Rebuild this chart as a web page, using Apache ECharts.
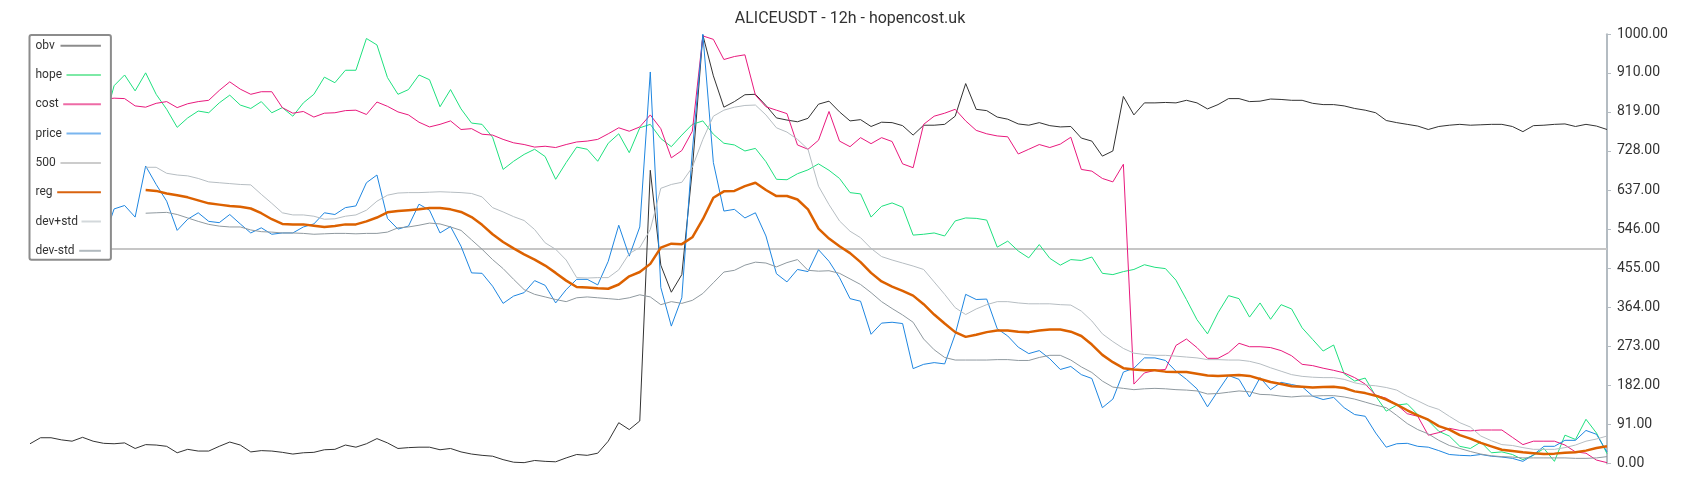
<!DOCTYPE html>
<html>
<head>
<meta charset="utf-8">
<title>ALICEUSDT - 12h - hopencost.uk</title>
<script src="https://cdn.jsdelivr.net/npm/echarts@6/dist/echarts.min.js"></script>
<style>
  html, body { margin: 0; padding: 0; background: #fff; }
  #main { width: 1700px; height: 500px; }
</style>
</head>
<body>
<div id="main"></div>
<script>
// values, 151 samples per series
const obv = [
  46, 60, 60, 55, 52, 61, 52, 47, 46, 48,
  35, 44, 43, 40, 25, 33, 29, 29, 40, 50,
  43, 27, 30, 29, 26, 22, 25, 26, 32, 33,
  43, 38, 46, 58, 48, 35, 37, 38, 38, 32,
  35, 27, 22, 19, 17, 9, 3, 2, 7, 5,
  4, 13, 21, 19, 24, 52, 95, 79, 99, 683,
  462, 399, 440, 685, 998, 903, 830, 843, 859, 860,
  834, 805, 800, 796, 804, 837, 844, 819, 798, 801,
  785, 795, 794, 787, 765, 788, 788, 790, 809, 885,
  825, 822, 807, 802, 791, 788, 794, 787, 784, 785,
  758, 751, 716, 728, 855, 812, 840, 840, 841, 840,
  846, 840, 826, 836, 850, 850, 843, 844, 849, 848,
  846, 846, 839, 836, 836, 833, 827, 823, 817, 799,
  794, 790, 786, 778, 785, 788, 790, 788, 789, 790,
  790, 785, 773, 787, 788, 790, 791, 785, 790, 786,
  778
];
const hope = [
  null, null, null, null, null, null, null, 790, 880, 905,
  868, 910, 860, 825, 783, 805, 821, 817, 840, 858,
  835, 827, 843, 817, 829, 809, 840, 860, 900, 887,
  916, 916, 990, 975, 899, 860, 871, 905, 894, 831,
  871, 826, 793, 790, 760, 685, 704, 720, 732, 715,
  662, 701, 737, 732, 704, 746, 768, 724, 782, 790,
  757, 738, 765, 790, 798, 767, 746, 742, 728, 734,
  703, 662, 661, 675, 684, 698, 683, 664, 631, 628,
  574, 599, 607, 597, 532, 534, 537, 530, 565, 572,
  571, 567, 504, 518, 495, 479, 510, 478, 462, 475,
  473, 481, 443, 440, 447, 452, 463, 457, 454, 427,
  382, 335, 302, 351, 391, 384, 341, 374, 336, 370,
  360, 316, 289, 262, 276, 209, 192, 199, 157, 122,
  136, 139, 114, 100, 75, 64, 40, 35, 50, 25,
  27, 21, 9, 19, 35, 5, 66, 56, 103, 71,
  23
];
const cost = [
  null, null, null, null, null, null, null, 848, 851, 850,
  833, 830, 839, 843, 829, 838, 843, 846, 869, 889,
  872, 860, 866, 866, 829, 816, 820, 807, 816, 817,
  822, 823, 813, 842, 832, 819, 812, 795, 784, 790,
  798, 778, 780, 767, 765, 755, 747, 743, 737, 739,
  736, 743, 749, 751, 755, 768, 782, 774, 784, 812,
  780, 712, 729, 774, 996, 988, 941, 948, 952, 858,
  831, 823, 815, 742, 732, 753, 820, 751, 738, 759,
  745, 759, 750, 698, 689, 790, 809, 816, 825, 798,
  776, 768, 763, 761, 721, 732, 743, 736, 744, 760,
  685, 681, 664, 656, 697, 185, 211, 217, 219, 275,
  290, 270, 245, 245, 258, 280, 272, 272, 270, 263,
  251, 231, 228, 222, 217, 211, 200, 185, 159, 152,
  137, 116, 110, 66, 72, 82, 77, 76, 78, 78,
  78, 61, 44, 52, 52, 52, 43, 27, 24, 8,
  2
];
const price = [
  null, null, null, null, null, null, null, 520, 593, 601,
  574, 693, 650, 611, 543, 569, 584, 564, 561, 580,
  558, 537, 549, 534, 537, 537, 551, 558, 584, 580,
  596, 600, 654, 672, 571, 546, 553, 604, 590, 537,
  552, 506, 444, 443, 413, 373, 390, 398, 426, 415,
  374, 405, 429, 429, 416, 471, 555, 483, 551, 912,
  410, 320, 386, 728, 1000, 701, 588, 592, 572, 584,
  530, 442, 423, 452, 447, 498, 471, 433, 384, 378,
  301, 327, 329, 326, 221, 231, 235, 232, 301, 394,
  382, 383, 314, 297, 271, 256, 263, 244, 219, 226,
  207, 198, 130, 150, 213, 222, 246, 246, 240, 215,
  196, 174, 132, 169, 205, 196, 155, 200, 172, 189,
  184, 179, 157, 149, 154, 130, 114, 110, 71, 38,
  46, 47, 40, 38, 30, 21, 19, 18, 21, 17,
  15, 12, 5, 20, 40, 40, 54, 54, 77, 68,
  27
];
const reg = [
  null, null, null, null, null, null, null, null, null, null,
  null, 637, 635, 629, 625, 620, 613, 606, 603, 600,
  598, 594, 583, 569, 558, 557, 557, 554, 551, 553,
  557, 557, 564, 573, 585, 588, 590, 592, 595, 595,
  592, 586, 574, 556, 534, 516, 501, 487, 475, 461,
  444, 426, 411, 410, 408, 407, 417, 436, 446, 465,
  503, 512, 511, 527, 569, 619, 634, 635, 646, 654,
  637, 623, 623, 615, 592, 547, 524, 506, 490, 469,
  444, 424, 412, 402, 391, 371, 347, 326, 306, 295,
  300, 306, 310, 310, 307, 306, 310, 312, 312, 307,
  297, 277, 253, 236, 222, 219, 217, 217, 214, 213,
  213, 209, 205, 204, 205, 206, 204, 197, 190, 185,
  180, 179, 177, 178, 179, 176, 168, 164, 158, 149,
  137, 124, 112, 102, 87, 79, 66, 58, 48, 40,
  32, 29, 26, 24, 22, 23, 25, 26, 30, 36,
  40
];
const devPlus = [
  null, null, null, null, null, null, null, null, null, null,
  null, 690, 690, 676, 672, 670, 664, 656, 654, 652,
  650, 649, 627, 606, 584, 579, 579, 576, 569, 570,
  576, 579, 590, 611, 625, 630, 631, 631, 632, 633,
  632, 631, 629, 621, 596, 586, 575, 566, 545, 514,
  499, 474, 433, 432, 433, 433, 451, 489, 503, 545,
  641, 650, 655, 690, 755, 809, 823, 830, 834, 835,
  812, 782, 772, 755, 732, 646, 603, 565, 541, 526,
  501, 482, 474, 467, 460, 452, 423, 394, 363, 347,
  360, 370, 377, 377, 374, 372, 372, 372, 370, 369,
  355, 332, 302, 284, 268, 257, 254, 252, 252, 250,
  248, 246, 242, 242, 241, 241, 238, 232, 223, 215,
  207, 203, 201, 200, 200, 196, 188, 183, 181, 177,
  171, 157, 146, 134, 126, 110, 95, 85, 64, 53,
  44, 42, 37, 33, 33, 33, 37, 43, 52, 57,
  64
];
const devMinus = [
  null, null, null, null, null, null, null, null, null, null,
  null, 583, 584, 585, 580, 572, 564, 557, 553, 551,
  551, 544, 540, 539, 537, 537, 536, 534, 535, 536,
  536, 535, 536, 536, 539, 549, 551, 555, 560, 558,
  551, 543, 521, 499, 475, 454, 429, 405, 394, 388,
  382, 377, 386, 388, 386, 384, 382, 386, 393, 388,
  370, 377, 373, 380, 396, 421, 446, 450, 462, 469,
  467, 458, 468, 475, 450, 448, 449, 443, 430, 417,
  398, 377, 361, 346, 329, 290, 265, 247, 241, 241,
  241, 241, 242, 242, 240, 240, 247, 252, 252, 241,
  225, 212, 192, 178, 175, 172, 174, 175, 174, 172,
  171, 169, 162, 163, 166, 169, 167, 161, 160, 157,
  155, 157, 157, 158, 158, 155, 150, 143, 136, 130,
  112, 93, 79, 69, 54, 42, 35, 28, 22, 18,
  16, 15, 13, 13, 13, 13, 13, 12, 12, 13,
  16
];
const level500 = 500;
const yTickValues = [0, 91, 182, 273, 364, 455, 546, 637, 728, 819, 910, 1000];
const categories = obv.map((v, i) => i);

const names = ['obv', 'hope', 'cost', 'price', '500', 'reg', 'dev+std', 'dev-std'];
const lineColors = ['#333333', '#1ee07e', '#e8197d', '#1f86e0', '#c6c6c6', '#dc6100', '#b6bdc2', '#8f999f'];
const iconColors = ['#8c8c8c', '#7de9a6', '#ee6ba6', '#7ab6ef', '#cccccc', '#d9630f', '#d3d8db', '#b1b9be'];
// legend: label box width and the bar after it (text left, bar ending at the same x)
const labelWidths = [25, 31, 27.7, 31, 25, 21.7, 46, 43.7];
const barWidths = [40.4, 34.4, 37.7, 34.4, 40.4, 43.7, 19.4, 21.7];

const rich = {};
names.forEach((n, i) => {
  rich['t' + i] = { width: labelWidths[i], fontSize: 12, color: '#333', fontFamily: 'Roboto' };
  rich['l' + i] = { width: barWidths[i], height: 2, backgroundColor: iconColors[i] };
});

function lineSeries(name, data, idx, width) {
  return {
    name: name,
    type: 'line',
    data: data,
    symbol: 'none',
    showSymbol: false,
    color: lineColors[idx],
    lineStyle: { width: width || 1, color: lineColors[idx] },
    emphasis: { disabled: true }
  };
}

let myChart = echarts.init(document.getElementById('main'));
let option = {
  animation: false,
  textStyle: { fontFamily: 'Roboto' },
  title: {
    text: 'ALICEUSDT - 12h - hopencost.uk',
    left: 'center',
    top: 6,
    textStyle: { fontSize: 16, fontWeight: 'normal', color: '#333', fontFamily: 'Roboto' }
  },
  legend: {
    z: 20,
    orient: 'vertical',
    left: 29.5,
    top: 35,
    align: 'left',
    icon: 'rect',
    itemWidth: 1,
    itemHeight: 14,
    itemGap: 15.3,
    padding: [3.7, 10, 2, 0],
    backgroundColor: '#fff',
    borderColor: '#8c8c8c',
    borderWidth: 2,
    borderRadius: 2,
    itemStyle: { opacity: 0, borderWidth: 0 },
    data: names,
    formatter: function (name) {
      let i = names.indexOf(name);
      return '{t' + i + '|' + name + '}{l' + i + '| }';
    },
    textStyle: { rich: rich }
  },
  grid: {
    left: 30,
    right: 93,
    top: 34.2,
    bottom: 36.5,
    outerBoundsMode: 'none'
  },
  xAxis: {
    type: 'category',
    data: categories,
    boundaryGap: false,
    show: false
  },
  yAxis: {
    type: 'value',
    position: 'right',
    min: 0,
    max: 1000,
    axisLine: { show: true, lineStyle: { color: '#b4bcc2', width: 2 } },
    axisTick: { show: true, length: 4, customValues: yTickValues, lineStyle: { color: '#b4bcc2', width: 1 } },
    axisLabel: {
      customValues: yTickValues,
      color: '#333',
      fontSize: 14,
      margin: 10,
      formatter: function (v) { return Number(v).toFixed(2); }
    },
    splitLine: { show: false }
  },
  series: [
    lineSeries('obv', obv, 0),
    lineSeries('hope', hope, 1),
    lineSeries('cost', cost, 2),
    lineSeries('price', price, 3),
    {
      name: '500',
      type: 'line',
      data: [],
      symbol: 'none',
      color: lineColors[4],
      lineStyle: { width: 2, color: lineColors[4] },
      markLine: {
        z: 2,
        silent: true,
        symbol: ['none', 'none'],
        label: { show: false },
        lineStyle: { type: 'solid', width: 2, color: lineColors[4] },
        data: [{ yAxis: level500 }]
      }
    },
    lineSeries('reg', reg, 5, 2.5),
    lineSeries('dev+std', devPlus, 6),
    lineSeries('dev-std', devMinus, 7)
  ]
}

myChart.setOption(option)
</script>
</body>
</html>
